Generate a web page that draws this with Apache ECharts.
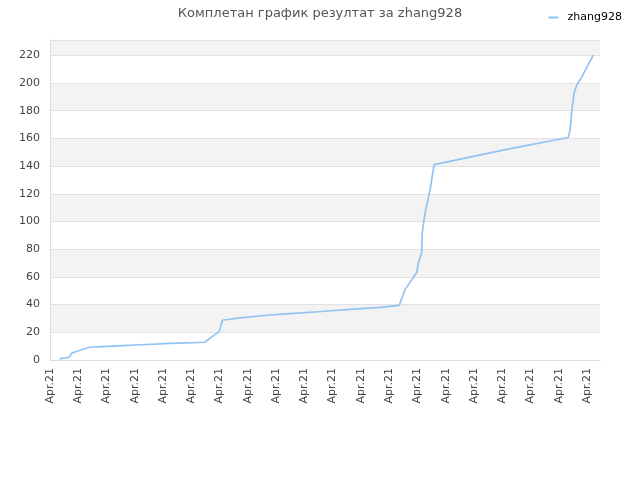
<!DOCTYPE html>
<html>
<head>
<meta charset="utf-8">
<script src="https://cdn.jsdelivr.net/npm/echarts@6/dist/echarts.min.js"></script>
<style>html,body{margin:0;padding:0;background:#fff}#c{width:640px;height:480px}</style>
</head>
<body>
<div id="c"></div>
<script>
var seriesName = 'zhang928';
var titleText = 'Комплетан график резултат за zhang928';
var tickLabel = 'Apr.21';
// x positions in tick units (0..19), y values
var xs = [0.33, 0.68, 0.77, 1.06, 1.39, 1.83, 2.58, 3.42, 4.25, 5.07, 5.48, 5.78, 5.99, 6.10, 6.13, 6.72, 7.67, 8.61, 9.6, 10.6, 11.68, 12.36, 12.56, 12.98, 13.03, 13.15, 13.17, 13.27, 13.45, 13.59, 16.16, 18.34, 18.40, 18.46, 18.54, 18.64, 18.82, 19.22];
var ys = [0.8, 2, 5, 7, 9.2, 9.7, 10.4, 11.2, 12, 12.5, 12.8, 17.6, 20.5, 28.7, 29.2, 30.4, 32.3, 33.7, 35, 36.5, 38, 39.5, 50.8, 63.3, 70, 77.3, 91.7, 106, 122.9, 141, 152, 160.6, 166, 179.3, 192.6, 198.6, 204.5, 220];
var data = xs.map(function(x, i){ return [x, ys[i]]; });

var chart = echarts.init(document.getElementById('c'));
chart.setOption({
  animation: false,
  title: {
    text: titleText, left: 'center', top: 2,
    textStyle: { fontFamily: 'DejaVu Sans', fontSize: 13, fontWeight: 'normal', color: '#555' }
  },
  legend: {
    right: 13, top: 7, itemWidth: 10, itemHeight: 2, itemGap: 5,
    icon: 'rect',
    textStyle: { fontFamily: 'DejaVu Sans', fontSize: 11, color: '#000', padding: [0, 0, 0, 4] },
    data: [seriesName]
  },
  grid: { left: 50, right: 40, top: 40, bottom: 120 },
  xAxis: {
    type: 'value', min: 0, max: 19.46, interval: 1,
    axisLine: { show: true, lineStyle: { color: '#ddd' } },
    axisTick: { show: false },
    splitLine: { show: false },
    axisLabel: {
      rotate: 90, color: '#444', fontFamily: 'DejaVu Sans', fontSize: 11, margin: 8,
      showMaxLabel: false,
      formatter: function(){ return tickLabel; }
    }
  },
  yAxis: {
    type: 'value', min: 0, max: 231, interval: 20,
    axisLine: { show: true, lineStyle: { color: '#ddd' } },
    axisTick: { show: false },
    axisLabel: { color: '#444', fontFamily: 'DejaVu Sans', fontSize: 11, margin: 10, showMaxLabel: false },
    splitLine: { show: true, lineStyle: { color: '#e2e2e2' } },
    splitArea: { show: true, areaStyle: { color: ['#ffffff', '#f3f3f3'] } }
  },
  series: [{
    name: seriesName, type: 'line', data: data, showSymbol: false, symbol: 'none',
    lineStyle: { color: '#92c4f3', width: 1.7 },
    itemStyle: { color: '#92c4f3' }
  }]
});
</script>
</body>
</html>
